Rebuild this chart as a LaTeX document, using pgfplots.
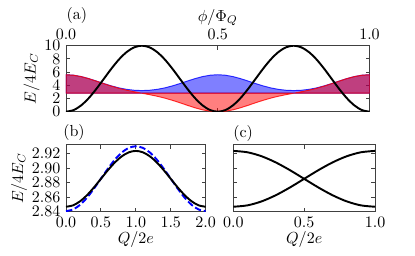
\documentclass[border=0pt]{standalone}
\usepackage{pgfplots}
\pgfplotsset{compat=1.18}
\usepackage{pgfplotstable}

\pgfplotstableread{
x b r
0 5.600 5.600
0.025 5.527 5.527
0.05 5.319 5.319
0.075 5.009 5.007
0.1 4.639 4.633
0.125 4.255 4.241
0.15 3.899 3.867
0.175 3.600 3.536
0.2 3.380 3.254
0.225 3.245 3.015
0.25 3.200 2.800
0.275 3.245 2.585
0.3 3.380 2.346
0.325 3.600 2.064
0.35 3.899 1.733
0.375 4.255 1.359
0.4 4.639 0.967
0.425 5.009 0.593
0.45 5.319 0.281
0.475 5.527 0.073
0.5 5.600 0.000
0.525 5.527 0.073
0.55 5.319 0.281
0.575 5.009 0.593
0.6 4.639 0.967
0.625 4.255 1.359
0.65 3.899 1.733
0.675 3.600 2.064
0.7 3.380 2.346
0.725 3.245 2.585
0.75 3.200 2.800
0.775 3.245 3.015
0.8 3.380 3.254
0.825 3.600 3.536
0.85 3.899 3.867
0.875 4.255 4.241
0.9 4.639 4.633
0.925 5.009 5.007
0.95 5.319 5.319
0.975 5.527 5.527
1 5.600 5.600
}\bands

\pgfplotstableread{
x u
0 0
0.025 0.245
0.05 0.955
0.075 2.061
0.1 3.455
0.125 5.000
0.15 6.545
0.175 7.939
0.2 9.045
0.225 9.755
0.25 10.000
0.275 9.755
0.3 9.045
0.325 7.939
0.35 6.545
0.375 5.000
0.4 3.455
0.425 2.061
0.45 0.955
0.475 0.245
0.5 0
0.525 0.245
0.55 0.955
0.575 2.061
0.6 3.455
0.625 5.000
0.65 6.545
0.675 7.939
0.7 9.045
0.725 9.755
0.75 10.000
0.775 9.755
0.8 9.045
0.825 7.939
0.85 6.545
0.875 5.000
0.9 3.455
0.925 2.061
0.95 0.955
0.975 0.245
1 0
}\potential

\pgfplotstableread{
q k d
0 2.8468 2.8408
0.1 2.8487 2.8430
0.2 2.8542 2.8493
0.3 2.8627 2.8592
0.4 2.8734 2.8717
0.5 2.8853 2.8855
0.6 2.8972 2.8993
0.7 2.9079 2.9118
0.8 2.9164 2.9217
0.9 2.9219 2.9280
1.0 2.9238 2.9302
1.1 2.9219 2.9280
1.2 2.9164 2.9217
1.3 2.9079 2.9118
1.4 2.8972 2.8993
1.5 2.8853 2.8855
1.6 2.8734 2.8717
1.7 2.8627 2.8592
1.8 2.8542 2.8493
1.9 2.8487 2.8430
2.0 2.8468 2.8408
}\panelb

\pgfplotstableread{
q a c
0 2.9238 2.8468
0.1 2.9219 2.8487
0.2 2.9164 2.8542
0.3 2.9079 2.8627
0.4 2.8972 2.8734
0.5 2.8853 2.8853
0.6 2.8734 2.8972
0.7 2.8627 2.9079
0.8 2.8542 2.9164
0.9 2.8487 2.9219
1.0 2.8468 2.9238
}\panelc

\pgfplotsset{
  every axis/.append style={
    scale only axis,
    anchor=north west,
    axis line style={black!75, line width=0.6pt},
    major tick length=2.5pt,
    every tick/.style={black!75, line width=0.6pt},
    tick align=inside,
    xtick pos=both, ytick pos=both,
    ticklabel style={font=\normalsize, inner sep=0.5pt},
    yticklabel style={xshift=-2.8pt},
    xticklabel style={yshift=-2.8pt},
  },
}

\begin{document}
\begin{tikzpicture}
\path[use as bounding box] (0,0) rectangle (259.375pt,-160pt);

% panel (a)
\begin{axis}[
  at={(41.25pt,-28.56pt)},
  width=189.7pt, height=41.25pt,
  xmin=0, xmax=1, ymin=0, ymax=10,
  xtick={0,0.5,1}, xticklabels={0.0,0.5,1.0},
  ytick={0,2,4,6,8,10},
  xticklabel pos=upper,
  xticklabel style={yshift=5.6pt},
  xlabel={$\phi/\Phi_Q$},
  ylabel={$E/4E_C$},
  xlabel style={yshift=-2pt},
  ylabel style={yshift=-1pt},
]
\addplot[draw=blue, line width=0.6pt, fill=blue, fill opacity=0.5, draw opacity=0.8]
  table[x=x, y=b] {\bands} -- (axis cs:1,2.8) -- (axis cs:0,2.8) -- cycle;
\addplot[draw=red, line width=0.6pt, fill=red, fill opacity=0.5, draw opacity=0.8]
  table[x=x, y=r] {\bands} -- (axis cs:1,2.8) -- (axis cs:0,2.8) -- cycle;
\addplot[black, line width=1.2pt, smooth] table[x=x, y=u] {\potential};
\end{axis}

% panel (b)
\begin{axis}[
  at={(41.25pt,-90.6pt)},
  width=87.3pt, height=41.7pt,
  xmin=0, xmax=2, ymin=2.84, ymax=2.932,
  xtick={0,0.5,1,1.5,2}, xticklabels={0.0,0.5,1.0,1.5,2.0},
  ytick={2.84,2.86,2.88,2.90,2.92},
  yticklabels={2.84,2.86,2.88,2.90,2.92},
  xlabel={$Q/2e$},
  ylabel={$E/4E_C$},
  xlabel style={yshift=2pt},
  ylabel style={yshift=-1pt},
]
\addplot[blue, line width=1.2pt, dash pattern=on 4pt off 1.8pt, smooth] table[x=q, y=d] {\panelb};
\addplot[black, line width=1.2pt, smooth] table[x=q, y=k] {\panelb};
\end{axis}

% panel (c)
\begin{axis}[
  at={(145.8pt,-90.6pt)},
  width=88.6pt, height=41.7pt,
  xmin=0, xmax=1, ymin=2.84, ymax=2.932,
  xtick={0,0.5,1}, xticklabels={0.0,0.5,1.0},
  ytick={2.84,2.86,2.88,2.90,2.92},
  yticklabels={},
  xlabel={$Q/2e$},
  xlabel style={yshift=2pt},
]
\addplot[black, line width=1.2pt, smooth] table[x=q, y=a] {\panelc};
\addplot[black, line width=1.2pt, smooth] table[x=q, y=c] {\panelc};
\end{axis}

\node[anchor=west, inner sep=0pt] at (41.5pt,-10pt) {(a)};
\node[anchor=west, inner sep=0pt] at (39.4pt,-83pt) {(b)};
\node[anchor=west, inner sep=0pt] at (145.6pt,-83.5pt) {(c)};
\end{tikzpicture}
\end{document}
